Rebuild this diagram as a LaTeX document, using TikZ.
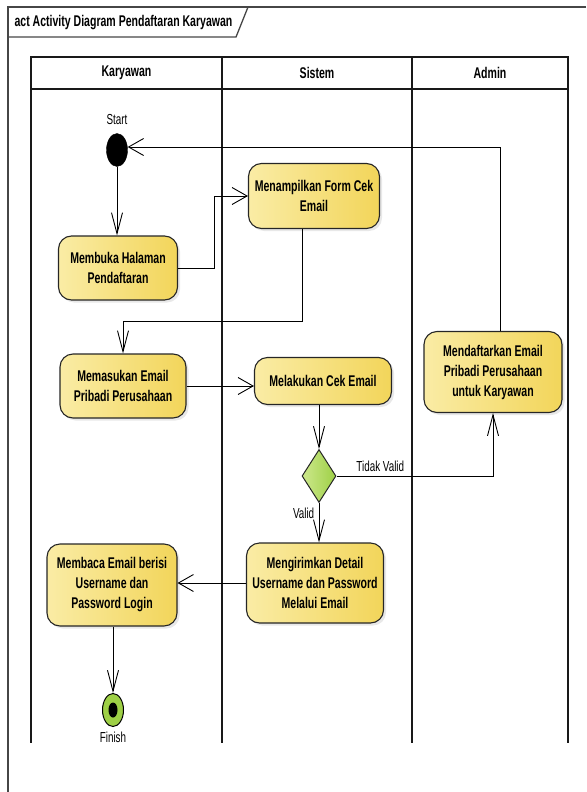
\documentclass[tikz,border=0pt]{standalone}
\usepackage{fontspec}
\setmainfont{Liberation Sans}[FakeStretch=0.68]
\usetikzlibrary{arrows.meta,shapes.geometric,shadows}
\definecolor{actyellow}{RGB}{242,213,90}
\definecolor{actlight}{RGB}{250,236,165}
\definecolor{decgreen}{RGB}{158,208,70}
\definecolor{declight}{RGB}{205,232,140}
\definecolor{framegray}{RGB}{70,70,70}

\begin{document}
\begin{tikzpicture}[
      x=1pt, y=-1pt,
      act/.style={draw=black!85,line width=1.1pt,rounded corners=13pt,left color=actlight,right color=actyellow,align=center,inner sep=0pt,font=\fontsize{15.5}{20}\selectfont\bfseries,drop shadow={shadow xshift=2.5pt,shadow yshift=-2.5pt,fill=black!18}},
      decision/.style={diamond,draw=black!85,line width=1pt,left color=declight,right color=decgreen,inner sep=0pt,minimum width=34pt,minimum height=53pt},
      initial/.style={ellipse,draw=black,fill=black,inner sep=0pt,minimum width=21pt,minimum height=33pt},
      final/.style={ellipse,draw=black,line width=1pt,fill=decgreen,inner sep=0pt,minimum width=21pt,minimum height=33pt},
      lane/.style={draw=black!90,line width=1.3pt},
      lanehead/.style={font=\fontsize{15.5}{18}\selectfont\bfseries},
      lbl/.style={font=\fontsize{14.5}{17}\selectfont},
      flowv/.style={-{Straight Barb[length=21pt,width=11pt]},line width=0.9pt},
      flowh/.style={-{Straight Barb[length=15pt,width=17pt]},line width=0.9pt}
    ]
      \useasboundingbox (0,0) rectangle (586,792);
      % frame and title tab
      \draw[framegray,line width=1.3pt] (586,7) -- (8,7) -- (8,792);
      \draw[framegray,line width=1.3pt] (8,37) -- (236,37) -- (248,7);
      \node[anchor=west,font=\fontsize{15.5}{18}\selectfont\bfseries] (title) at (11,23) {act Activity Diagram Pendaftaran Karyawan};
      % swimlanes
      \draw[lane] (31,57) rectangle (568,89);
      \draw[lane] (31,89) -- (31,743) (222,57) -- (222,743) (412,57) -- (412,743) (568,89) -- (568,743);
      \node[lanehead] (karyawan) at (126.5,73) {Karyawan};
      \node[lanehead] (sistem) at (317,73) {Sistem};
      \node[lanehead] (admin) at (490,73) {Admin};
      % nodes
      \node[initial] (start) at (117,150) {};
      \node[lbl] (startlbl) at (117,120) {Start};
      \node[act,minimum width=119pt,minimum height=64pt] (buka) at (118,268) {Membuka Halaman\\Pendaftaran};
      \node[act,minimum width=131pt,minimum height=65pt] (form) at (314,196) {Menampilkan Form Cek\\Email};
      \node[act,minimum width=126pt,minimum height=64pt] (masuk) at (123,386) {Memasukan Email\\Pribadi Perusahaan};
      \node[act,minimum width=137pt,minimum height=47pt] (cek) at (323,381) {Melakukan Cek Email};
      \node[decision] (valid) at (319,476) {};
      \node[act,minimum width=138pt,minimum height=81pt] (daftar) at (493,372) {Mendaftarkan Email\\Pribadi Perusahaan\\untuk Karyawan};
      \node[act,minimum width=137pt,minimum height=80pt] (kirim) at (315,583) {Mengirimkan Detail\\Username dan Password\\Melalui Email};
      \node[act,minimum width=130pt,minimum height=82pt] (baca) at (112,585) {Membaca Email berisi\\Username dan\\Password Login};
      \node[final] (finish) at (113,710) {};
      \fill (finish.center) ellipse (4.5pt and 7.5pt);
      \node[lbl] (finishlbl) at (113,737) {Finish};
      % flows
      \draw[flowv] (start) -- (start |- buka.north);
      \draw[flowh] (buka.east) -- ++(36,0) |- (form.west);
      \draw[flowv] ([xshift=-12pt]form.south) -- ++(0,92) -| (masuk.north);
      \draw[flowh] (masuk.east) -- (masuk.east -| cek.west);
      \draw[flowv] (valid.north |- cek.south) -- (valid.north);
      \draw[flowv] (valid.east) -| node[lbl,pos=0.14,above=1pt] (tidak) {Tidak Valid} (daftar.south);
      \draw[flowv] (valid.south) -- node[lbl,pos=0.25,left=1pt] (ya) {Valid} (valid.south |- kirim.north);
      \draw[flowh] (kirim.west) -- (kirim.west -| baca.east);
      \draw[flowv] (baca.south -| finish.north) -- (finish.north);
      \draw[flowh] ([xshift=7pt]daftar.north) |- ([yshift=3pt]start.east);
    \end{tikzpicture}
\end{document}
